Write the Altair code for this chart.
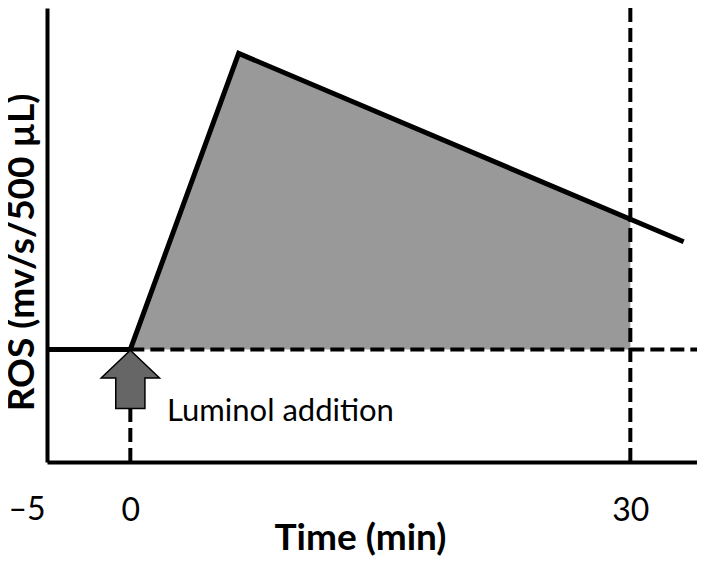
import altair as alt
import pandas as pd

# Schematic values (time in min, ROS in arbitrary units)
curve_t = [-5, 0, 6.5, 33.2]
curve_ros = [2.48, 2.48, 9.0, 4.85]
fill_t = [0, 6.5, 30]
fill_ros = [2.48, 9.0, 5.35]
baseline = 2.48
x_ticks = [0, 30]
neg_tick = [-5]
arrow_t = [0]
arrow_ros = [1.82]
label_t = [2.2]
label_ros = [1.1]
label_text = ["Luminol addition"]

vrule_t = [0, 30]
vrule_y = [0, 0]
vrule_y2 = [1.19, 10]
hrule_t = [0]
hrule_t2 = [34]

FONT = "Lato"
xs = alt.Scale(domain=[-5, 34], nice=False, zero=False)
ys = alt.Scale(domain=[0, 10], nice=False, zero=False)

curve = pd.DataFrame({"t": curve_t, "ros": curve_ros})
fill = pd.DataFrame({"t": fill_t, "ros": fill_ros, "base": [baseline] * len(fill_t)})
vr = pd.DataFrame({"t": vrule_t, "y": vrule_y, "y2": vrule_y2})
hr = pd.DataFrame({"t": hrule_t, "t2": hrule_t2, "y": [baseline]})
arrow = pd.DataFrame({"t": arrow_t, "ros": arrow_ros})
lab = pd.DataFrame({"t": label_t, "ros": label_ros, "txt": label_text})
neg = pd.DataFrame({"t": neg_tick, "ros": [0], "txt": ["\u20135"]})

x_axis = alt.Axis(values=x_ticks, labelFontSize=32, labelFont=FONT, labelColor="black",
                  ticks=False, domainColor="black", domainWidth=4, grid=False,
                  labelPadding=33, title="Time (min)", titleFont=FONT, titleFontSize=37,
                  titleFontWeight="bold", titleColor="black", titleBaseline="alphabetic",
                  titleX=313, titleY=87)
y_axis = alt.Axis(labels=False, ticks=False, domainColor="black", domainWidth=4, grid=False,
                  title="ROS (mv/s/500 \u00b5L)", titleFont=FONT, titleFontSize=37,
                  titleFontWeight="bold", titleColor="black", titlePadding=6, titleY=244)

area = alt.Chart(fill).mark_area(color="#999999", opacity=1).encode(
    x=alt.X("t:Q", scale=xs, axis=x_axis),
    y=alt.Y("ros:Q", scale=ys, axis=y_axis),
    y2="base:Q",
)

vrules = alt.Chart(vr).mark_rule(color="black", strokeWidth=4, strokeDash=[14, 6]).encode(
    x=alt.X("t:Q", scale=xs), y=alt.Y("y:Q", scale=ys), y2="y2:Q"
)
hrules = alt.Chart(hr).mark_rule(color="black", strokeWidth=4, strokeDash=[14, 6]).encode(
    x=alt.X("t:Q", scale=xs), x2="t2:Q", y=alt.Y("y:Q", scale=ys)
)

line = alt.Chart(curve).mark_line(color="black", strokeWidth=5, strokeJoin="miter").encode(
    x=alt.X("t:Q", scale=xs), y=alt.Y("ros:Q", scale=ys), order="t:Q"
)

arrow_path = "M0,-1L1,-0.05L0.5,-0.05L0.5,1L-0.5,1L-0.5,-0.05L-1,-0.05Z"
arr = alt.Chart(arrow).mark_point(shape=arrow_path, size=3400, filled=True, fill="#666666",
                                  stroke="black", strokeWidth=1.5, opacity=1).encode(
    x=alt.X("t:Q", scale=xs), y=alt.Y("ros:Q", scale=ys)
)

text = alt.Chart(lab).mark_text(align="left", baseline="middle", font=FONT, fontSize=31,
                                color="black").encode(
    x=alt.X("t:Q", scale=xs), y=alt.Y("ros:Q", scale=ys), text="txt:N"
)

negtext = alt.Chart(neg).mark_text(align="center", baseline="middle", font=FONT, fontSize=32,
                                   color="black", dx=-20, dy=48).encode(
    x=alt.X("t:Q", scale=xs), y=alt.Y("ros:Q", scale=ys), text="txt:N"
)

chart = alt.layer(area, hrules, vrules, line, arr, text, negtext).properties(
    width=650, height=454,
    autosize=alt.AutoSizeParams(type="none"),
    padding={"left": 39, "top": 0, "right": 0, "bottom": 94},
    background="white",
).configure_view(stroke=None)

chart.save("out.html", embed_options={"renderer": "svg", "actions": False})
